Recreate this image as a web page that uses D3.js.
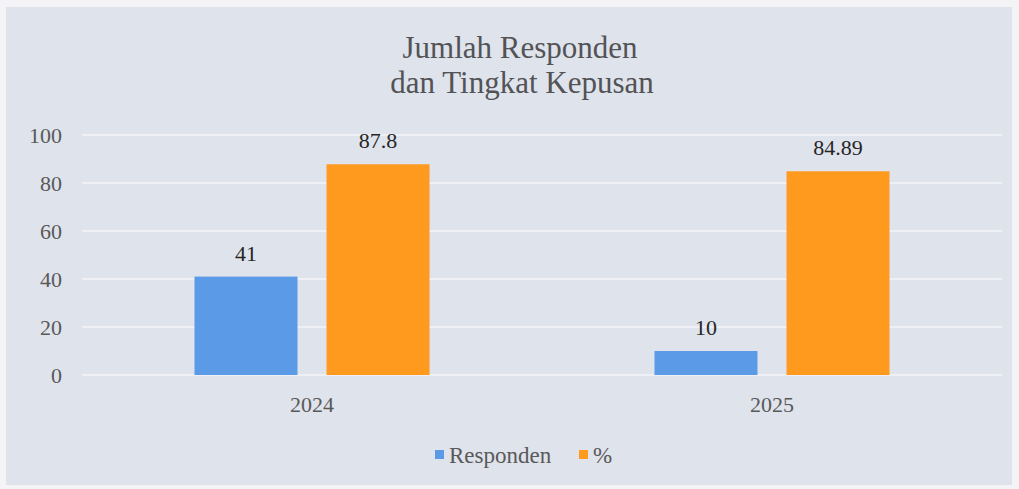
<!DOCTYPE html>
<html><head><meta charset="utf-8">
<script src="https://cdn.jsdelivr.net/npm/d3@7"></script>
<style>body{margin:0;background:#f4f4f6;} svg{display:block;}</style>
</head><body>
<svg id="c" width="1019" height="489"></svg>
<script>
const categories = ["2024", "2025"];
const seriesNames = ["Responden", "%"];
const responden = [41, 10];
const persen = [87.8, 84.89];
const labelsResponden = ["41", "10"];
const labelsPersen = ["87.8", "84.89"];
const yTicks = [0, 20, 40, 60, 80, 100];
const colors = ["#5b9ae6", "#ff9a1e"];

(function () {
const svg = d3.select("#c");
const font = "'Liberation Serif','Times New Roman',serif";
svg.append("rect").attr("x", 6).attr("y", 7).attr("width", 1006).attr("height", 478).attr("fill", "#dfe3ec");

const pLeft = 82, pRight = 1002, pTop = 135, pBottom = 375;
const x0 = d3.scaleBand().domain(categories).range([pLeft, pRight]).paddingInner(0).paddingOuter(0);
const x1 = d3.scaleBand().domain(seriesNames).range([0, x0.bandwidth()]).paddingInner(0.22).paddingOuter(0.852);
const y = d3.scaleLinear().domain([0, 100]).range([pBottom, pTop]);

svg.append("g").selectAll("line").data(yTicks).join("line")
  .attr("x1", pLeft).attr("x2", pRight)
  .attr("y1", d => y(d)).attr("y2", d => y(d))
  .attr("stroke", "#f3f4f8").attr("stroke-width", 1.5);

const yAxis = d3.axisLeft(y).tickValues(yTicks).tickSize(0).tickPadding(0);
const ga = svg.append("g").attr("transform", `translate(62,0)`).call(yAxis);
ga.select(".domain").remove();
ga.selectAll("text").attr("font-family", font).attr("font-size", 22).attr("fill", "#595959");

const data = categories.map((c, i) => ({cat: c, vals: [
  {s: seriesNames[0], v: responden[i], l: labelsResponden[i], c: colors[0]},
  {s: seriesNames[1], v: persen[i], l: labelsPersen[i], c: colors[1]}]}));

const g = svg.append("g").selectAll("g").data(data).join("g")
  .attr("transform", d => `translate(${x0(d.cat)},0)`);
g.selectAll("rect").data(d => d.vals).join("rect")
  .attr("x", d => x1(d.s)).attr("width", x1.bandwidth())
  .attr("y", d => y(d.v)).attr("height", d => y(0) - y(d.v))
  .attr("fill", d => d.c);
g.selectAll("text").data(d => d.vals).join("text")
  .attr("x", d => x1(d.s) + x1.bandwidth() / 2).attr("y", d => y(d.v) - 16)
  .attr("text-anchor", "middle").attr("font-family", font).attr("font-size", 22).attr("fill", "#262626")
  .text(d => d.l);

svg.append("g").selectAll("text").data(categories).join("text")
  .attr("x", d => x0(d) + x0.bandwidth() / 2).attr("y", 412)
  .attr("text-anchor", "middle").attr("font-family", font).attr("font-size", 22).attr("fill", "#595959")
  .text(d => d);

svg.append("text").attr("x", 520).attr("y", 58).attr("text-anchor", "middle")
  .attr("font-family", font).attr("font-size", 31).attr("fill", "#535356").text("Jumlah Responden");
svg.append("text").attr("x", 522).attr("y", 93).attr("text-anchor", "middle")
  .attr("font-family", font).attr("font-size", 31).attr("fill", "#535356").text("dan Tingkat Kepusan");

const legX = [435, 579];
const lg = svg.append("g").selectAll("g").data(seriesNames).join("g")
  .attr("transform", (d, i) => `translate(${legX[i]},0)`);
lg.append("rect").attr("x", 0).attr("y", 450).attr("width", 9).attr("height", 9).attr("fill", (d, i) => colors[i]);
lg.append("text").attr("x", 14).attr("y", 463).attr("font-family", font).attr("font-size", 23).attr("fill", "#595959").text(d => d);
})();
</script>
</body></html>
